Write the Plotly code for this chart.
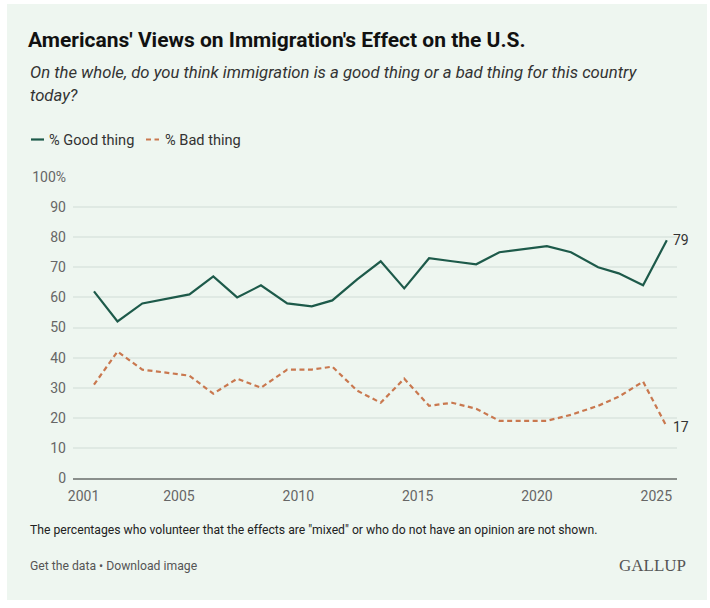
import plotly.graph_objs as go

# survey dates (Gallup June/July polls) and % values
dates = ["2001-06-10", "2002-06-05", "2003-06-20", "2005-06-10", "2006-06-10",
         "2007-06-10", "2008-06-08", "2009-07-15", "2010-07-25", "2011-06-05",
         "2012-06-20", "2013-06-15", "2014-06-10", "2015-06-25", "2016-06-12",
         "2017-06-15", "2018-06-05", "2019-06-05", "2020-06-01", "2021-06-05",
         "2022-07-25", "2023-06-05", "2024-06-12", "2025-06-10"]
good_thing = [62, 52, 58, 61, 67, 60, 64, 58, 57, 59, 66, 72, 63, 73, 72,
              71, 75, 76, 77, 75, 70, 68, 64, 79]
bad_thing = [31, 42, 36, 34, 28, 33, 30, 36, 36, 37, 29, 25, 33, 24, 25,
             23, 19, 19, 19, 21, 24, 27, 32, 17]

x_tick_vals = ["2001-01-01", "2005-01-01", "2010-01-01", "2015-01-01",
               "2020-01-01", "2025-01-01"]
x_tick_text = ["2001", "2005", "2010", "2015", "2020", "2025"]
y_tick_vals = [0, 10, 20, 30, 40, 50, 60, 70, 80, 90, 100]
y_tick_text = ["0", "10", "20", "30", "40", "50", "60", "70", "80", "90", "100%"]

GREEN = "#1d5a4a"
ORANGE = "#c9784f"
BG = "#eef6f0"
FONT = "Roboto"

W, H = 710, 608
L, R, T, B = 73, 33, 177, 130
PW, PH = W - L - R, H - T - B


def px_x(px):
    return (px - L) / PW


def px_y(py):
    return (H - B - py) / PH


fig = go.Figure()
fig.add_trace(go.Scatter(x=dates, y=good_thing, mode="lines", name="% Good thing",
                         line=dict(color=GREEN, width=2.2), hoverinfo="skip"))
fig.add_trace(go.Scatter(x=dates, y=bad_thing, mode="lines", name="% Bad thing",
                         line=dict(color=ORANGE, width=2.2, dash="5px,3.5px"), hoverinfo="skip"))

annotations = [
    dict(x=dates[-1], y=good_thing[-1], text=str(good_thing[-1]), xanchor="left",
         xshift=4, showarrow=False, font=dict(size=14, color="#333")),
    dict(x=dates[-1], y=bad_thing[-1], text=str(bad_thing[-1]), xanchor="left",
         xshift=4, showarrow=False, font=dict(size=14, color="#333")),
    # subtitle
    dict(xref="paper", yref="paper", x=px_x(28), y=px_y(72), xanchor="left", yanchor="middle",
         text="<i>On the whole, do you think immigration is a good thing or a bad thing for this country</i>",
         showarrow=False, font=dict(size=16.7, color="#333")),
    dict(xref="paper", yref="paper", x=px_x(28), y=px_y(96), xanchor="left", yanchor="middle",
         text="<i>today?</i>", showarrow=False, font=dict(size=16.7, color="#333")),
    # legend labels
    dict(xref="paper", yref="paper", x=px_x(47), y=px_y(140), xanchor="left", yanchor="middle",
         text="% Good thing", showarrow=False, font=dict(size=14.6, color="#333")),
    dict(xref="paper", yref="paper", x=px_x(163), y=px_y(140), xanchor="left", yanchor="middle",
         text="% Bad thing", showarrow=False, font=dict(size=14.6, color="#333")),
    # footer
    dict(xref="paper", yref="paper", x=px_x(28), y=px_y(530), xanchor="left", yanchor="middle",
         text='The percentages who volunteer that the effects are "mixed" or who do not have an opinion are not shown.',
         showarrow=False, font=dict(size=12.2, color="#222")),
    dict(xref="paper", yref="paper", x=px_x(28), y=px_y(566), xanchor="left", yanchor="middle",
         text="Get the data \u2022 Download image", showarrow=False, font=dict(size=12.2, color="#555")),
    dict(xref="paper", yref="paper", x=px_x(688), y=px_y(565), xanchor="right", yanchor="middle",
         text="GALLUP", showarrow=False,
         font=dict(family="Liberation Serif", size=17, color="#555")),
]

shapes = [
    # card background with a thin white margin around it
    dict(type="rect", xref="paper", yref="paper", x0=px_x(7), x1=px_x(707),
         y0=px_y(600), y1=px_y(4), fillcolor=BG, line=dict(width=0), layer="below"),
    # legend samples
    dict(type="line", xref="paper", yref="paper", x0=px_x(31), x1=px_x(44),
         y0=px_y(139.5), y1=px_y(139.5), line=dict(color=GREEN, width=2.2)),
    dict(type="line", xref="paper", yref="paper", x0=px_x(146), x1=px_x(159),
         y0=px_y(139.5), y1=px_y(139.5), line=dict(color=ORANGE, width=2.2, dash="5px,3.5px")),
]

fig.update_layout(
    width=W, height=H,
    margin=dict(l=L, r=R, t=T, b=B),
    paper_bgcolor="white", plot_bgcolor="rgba(0,0,0,0)",
    font=dict(family=FONT, color="#333"),
    showlegend=False,
    title=dict(text="<b>Americans' Views on Immigration's Effect on the U.S.</b>",
               xref="container", yref="container", x=28 / W, y=1 - 40 / H,
               xanchor="left", yanchor="middle", font=dict(size=21, color="#111")),
    annotations=annotations,
    shapes=shapes,
)
fig.update_xaxes(type="date", range=["2000-07-24", "2025-11-13"],
                 tickvals=x_tick_vals, ticktext=x_tick_text,
                 showgrid=False, zeroline=False,
                 showline=True, linecolor="#8a8f8c", linewidth=2,
                 ticks="", ticklabelstandoff=4,
                 tickfont=dict(size=14, color="#666"))
fig.update_yaxes(range=[0, 100], tickvals=y_tick_vals, ticktext=y_tick_text,
                 showgrid=True, gridcolor="#dfe9e3", gridwidth=1.5,
                 zeroline=False, showline=False, ticks="", ticklabelstandoff=6,
                 tickfont=dict(size=14, color="#666"))

# browser default body margin would push the figure 8px right/down
fig.write_html("out.html", config={"displayModeBar": False},
               post_script="document.body.style.margin='0';")
